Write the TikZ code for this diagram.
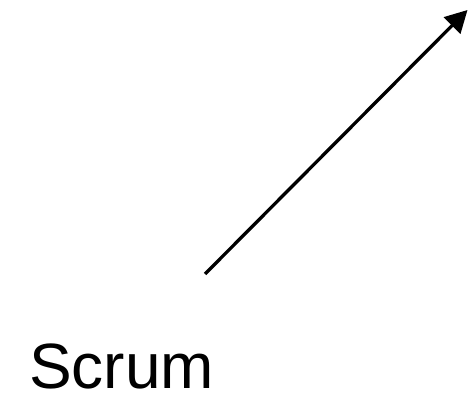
\documentclass[tikz,border=0pt]{standalone}
\usepackage{fontspec}
\setmainfont{Liberation Sans}
\usetikzlibrary{arrows.meta, positioning}

\begin{document}
\begin{tikzpicture}[
        x=1pt, y=-1pt,
        label/.style={inner sep=0pt, anchor=base west, font=\fontsize{64}{64}\selectfont},
        arrow/.style={-{Triangle[length=22pt, width=23pt]}, line width=3.3pt}
    ]
        \useasboundingbox (0,0) rectangle (468,403);
        \node[label] (scrum) at (29,388) {Scrum};
        \coordinate (tail) at (205,274);
        \coordinate (head) at (467.5,10);

        \draw[arrow] (tail) -- (head);
    \end{tikzpicture}
\end{document}
